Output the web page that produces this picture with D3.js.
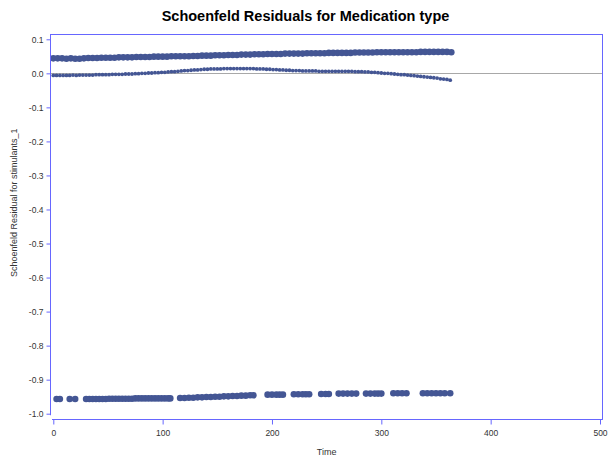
<!DOCTYPE html>
<html>
<head>
<meta charset="utf-8">
<script src="https://cdn.jsdelivr.net/npm/d3@7"></script>
<style>
  html, body { margin: 0; padding: 0; background: #ffffff; }
  svg { display: block; }
  text { font-family: "Liberation Sans", Arial, sans-serif; }
</style>
</head>
<body>
<svg id="chart" width="611" height="461"></svg>
<script>
// ---------------- DATA ----------------
const titleText = "Schoenfeld Residuals for Medication type";
const xLabel = "Time";
const yLabel = "Schoenfeld Residual for stimulants_1";
const xTicks = [0, 100, 200, 300, 400, 500];
const yTicks = [0.1, 0.0, -0.1, -0.2, -0.3, -0.4, -0.5, -0.6, -0.7, -0.8, -0.9, -1.0];

// upper band of residuals
const upperTime = [0,4,8,12,16,20,24,28,32,36,40,44,48,52,56,60,64,68,72,76,80,84,88,92,96,100,104,108,112,116,120,124,128,132,136,140,144,148,152,156,160,164,168,172,176,180,184,188,192,196,200,204,208,212,216,220,224,228,232,236,240,244,248,252,256,260,264,268,272,276,280,284,288,292,296,300,304,308,312,316,320,324,328,332,336,340,344,348,352,356,360,364];
const upperRes = [0.044,0.044,0.044,0.043,0.044,0.043,0.043,0.044,0.045,
  0.045,0.045,0.046,0.046,0.046,0.046,0.047,0.047,0.047,0.047,0.048,
  0.048,0.048,0.048,0.049,0.049,0.049,0.049,0.050,0.050,0.050,0.050,0.050,
  0.051,0.051,0.052,0.052,0.052,0.053,0.053,0.053,0.054,
  0.054,0.054,0.055,0.055,0.055,0.056,0.056,0.056,0.057,
  0.057,0.057,0.057,0.058,0.058,0.058,0.058,0.058,0.059,0.059,0.059,0.059,
  0.059,0.060,0.060,0.060,0.060,0.060,0.060,0.061,0.061,0.061,0.061,0.061,0.062,0.062,0.062,0.062,0.062,0.062,
  0.062,0.062,0.062,0.062,0.063,0.063,0.063,0.063,0.063,0.063,0.063,0.062];

// middle thin curve of residuals
const middleTime = [0,3,6,9,12,15,18,21,24,27,30,33,36,39,42,45,48,51,54,57,60,63,66,69,72,75,78,81,84,87,90,93,96,99,102,105,108,111,114,117,120,123,126,129,132,135,138,141,144,147,150,153,156,159,162,165,168,171,174,177,180,183,186,189,192,195,198,201,204,207,210,213,216,219,222,225,228,231,234,237,240,243,246,249,252,255,258,261,264,267,270,273,276,279,282,285,288,291,294,297,300,303,306,309,312,315,318,321,324,327,330,333,336,339,342,345,348,351,354,357,360,363];
const middleRes = [-0.006,-0.006,-0.006,-0.006,-0.006,-0.006,-0.005,-0.006,-0.005,-0.005,
  -0.005,-0.005,-0.005,-0.004,-0.004,-0.004,-0.004,-0.004,-0.003,-0.003,
  -0.003,-0.003,-0.002,-0.002,-0.002,-0.001,-0.001,0.000,0.000,0.001,
  0.001,0.002,0.002,0.003,0.003,0.004,0.005,0.005,0.006,0.007,
  0.008,0.008,0.009,0.010,0.010,0.011,0.012,0.012,0.013,0.013,
  0.013,0.013,0.014,0.014,0.014,0.014,0.014,0.014,0.014,0.014,
  0.014,0.014,0.013,0.013,0.013,0.012,0.012,0.011,0.011,0.010,
  0.010,0.009,0.009,0.008,0.008,0.008,0.007,0.007,0.007,0.007,
  0.007,0.006,0.006,0.006,0.006,0.006,0.006,0.006,0.006,0.006,
  0.006,0.006,0.005,0.005,0.005,0.004,0.004,0.003,0.003,0.002,
  0.001,0.000,0.000,-0.001,-0.002,-0.003,-0.004,-0.004,-0.005,-0.006,
  -0.007,-0.008,-0.009,-0.010,-0.011,-0.012,-0.013,-0.014,-0.016,-0.017,
  -0.018,-0.020];

// lower band of residuals
const lowerTime = [3,6, 15,20,
  30,33,36,39,42,45,48,51,54,57,60,63,66,69,72,75,78,81,84,87,90,93,96,99,102,105,107,
  116,120,124,128,132,136,140,144,148,152,156,160,164,168,172,176,180,183,
  196,200,204,207,210,
  220,224,228,231,234,
  245,249,252,
  261,265,269,273,277,
  286,290,294,297,300,
  311,315,319,323,
  338,342,346,350,354,358,363];
const lowerRes = [-0.957,-0.957, -0.957,-0.957,
  -0.957,-0.957,-0.957,-0.957,-0.957,-0.957,-0.957,-0.956,-0.956,-0.956,-0.956,-0.956,-0.956,-0.956,-0.956,-0.955,-0.955,-0.955,-0.955,-0.955,-0.955,-0.955,-0.955,-0.955,-0.955,-0.955,-0.955,
  -0.954,-0.954,-0.953,-0.953,-0.952,-0.952,-0.951,-0.951,-0.950,-0.950,-0.949,-0.949,-0.948,-0.948,-0.947,-0.947,-0.946,-0.946,
  -0.944,-0.944,-0.944,-0.944,-0.944,
  -0.943,-0.943,-0.943,-0.943,-0.943,
  -0.942,-0.942,-0.942,
  -0.941,-0.941,-0.941,-0.941,-0.941,
  -0.941,-0.941,-0.941,-0.941,-0.941,
  -0.940,-0.940,-0.940,-0.940,
  -0.940,-0.940,-0.940,-0.940,-0.940,-0.940,-0.940];

// ---------------- DRAW ----------------
const svg = d3.select("#chart");
const markerColor = "#445694";
const axisColor = "#6666ff";
const textColor = "#333333";

const x = d3.scaleLinear().domain([0, 500]).range([53.3, 600]);
const y = d3.scaleLinear().domain([-1.0, 0.1]).range([413.7, 39.3]);

const frameLeft = x(-2.6), frameRight = x(501.8);
const frameTop = y(0.1156), yAxisBottom = y(-1.0045), xAxisY = y(-1.0167);

// title
svg.append("text")
  .attr("x", 305.5).attr("y", 20.5)
  .attr("text-anchor", "middle")
  .style("font-size", "14.5px").style("font-weight", "bold")
  .attr("fill", "#000")
  .text(titleText);

// reference line at 0
svg.append("line")
  .attr("x1", frameLeft).attr("x2", frameRight)
  .attr("y1", Math.round(y(0)) + 0.5).attr("y2", Math.round(y(0)) + 0.5)
  .attr("stroke", "#a8a8a8").attr("stroke-width", 1);

// markers
const plot = svg.append("g");
function drawSeries(times, vals, r) {
  plot.append("g").selectAll("circle")
    .data(times.map((t, i) => [t, vals[i]]))
    .join("circle")
    .attr("cx", d => x(d[0]))
    .attr("cy", d => y(d[1]))
    .attr("r", r)
    .attr("fill", markerColor);
}
drawSeries(upperTime, upperRes, 3.3);
drawSeries(middleTime, middleRes, 1.9);
drawSeries(lowerTime, lowerRes, 3.3);

// frame (top and right)
svg.append("line")
  .attr("x1", frameLeft).attr("x2", frameRight + 0.5)
  .attr("y1", Math.round(frameTop) + 0.5).attr("y2", Math.round(frameTop) + 0.5)
  .attr("stroke", axisColor);
svg.append("line")
  .attr("x1", Math.round(frameRight) + 0.5).attr("x2", Math.round(frameRight) + 0.5)
  .attr("y1", frameTop).attr("y2", xAxisY + 0.5)
  .attr("stroke", axisColor);

// y axis
const yAxis = d3.axisLeft(y).tickValues(yTicks)
  .tickFormat(d => d.toFixed(1)).tickSize(4).tickSizeOuter(0).tickPadding(3);
const gy = svg.append("g")
  .attr("transform", `translate(${Math.round(frameLeft) + 0.5},0)`)
  .call(yAxis);
gy.select(".domain").remove();
gy.selectAll(".tick line").attr("stroke", axisColor);
gy.selectAll(".tick text").attr("fill", textColor)
  .style("font-size", "8.5px").style("font-family", "'Liberation Sans', Arial, sans-serif");
svg.append("line")
  .attr("x1", Math.round(frameLeft) + 0.5).attr("x2", Math.round(frameLeft) + 0.5)
  .attr("y1", frameTop).attr("y2", yAxisBottom)
  .attr("stroke", axisColor);

// x axis
const xAxis = d3.axisBottom(x).tickValues(xTicks)
  .tickFormat(d3.format("d")).tickSize(5).tickSizeOuter(0).tickPadding(5);
const gx = svg.append("g")
  .attr("transform", `translate(0,${Math.round(xAxisY) + 0.5})`)
  .call(xAxis);
gx.select(".domain").remove();
gx.selectAll(".tick line").attr("stroke", axisColor);
gx.selectAll(".tick text").attr("fill", textColor)
  .style("font-size", "8.5px").style("font-family", "'Liberation Sans', Arial, sans-serif");
svg.append("line")
  .attr("x1", x(-1.2)).attr("x2", frameRight + 0.5)
  .attr("y1", Math.round(xAxisY) + 0.5).attr("y2", Math.round(xAxisY) + 0.5)
  .attr("stroke", axisColor);

// axis labels
svg.append("text")
  .attr("x", (x(0) + x(500)) / 2).attr("y", 455)
  .attr("text-anchor", "middle")
  .style("font-size", "9px").attr("fill", textColor)
  .text(xLabel);
svg.append("text")
  .attr("transform", "translate(16.7,277) rotate(-90)")
  .attr("text-anchor", "start")
  .style("font-size", "9px").attr("fill", textColor)
  .text(yLabel);
</script>
</body>
</html>
